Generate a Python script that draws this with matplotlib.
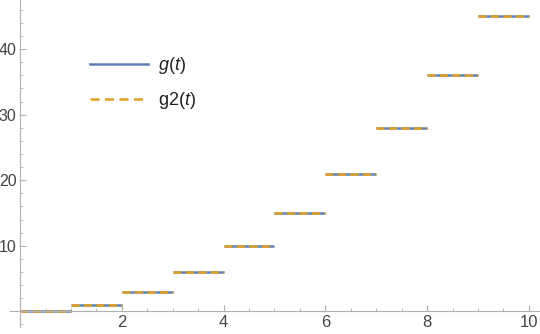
import matplotlib
matplotlib.use("Agg")
import matplotlib.pyplot as plt
from matplotlib.ticker import MultipleLocator, FixedLocator
from matplotlib.lines import Line2D

plt.rcParams['font.family'] = ['Liberation Sans', 'DejaVu Sans']
plt.rcParams['mathtext.fontset'] = 'custom'
plt.rcParams['mathtext.it'] = 'Liberation Sans:italic'
plt.rcParams['mathtext.rm'] = 'Liberation Sans'

step_start = [0, 1, 2, 3, 4, 5, 6, 7, 8, 9]
step_end = [1, 2, 3, 4, 5, 6, 7, 8, 9, 10]
g_values = [0, 1, 3, 6, 10, 15, 21, 28, 36, 45]
g2_values = [0, 1, 3, 6, 10, 15, 21, 28, 36, 45]
x_ticks = [2, 4, 6, 8, 10]
y_ticks = [10, 20, 30, 40]
legend_labels = [r'$g(t)$', r'g2($t$)']

blue = '#5E81B5'
orange = '#E1A024'
axis_gray = '#b0b0b0'
label_gray = '#444444'

fig = plt.figure(figsize=(5.4, 3.34), dpi=100)
ax = fig.add_axes([10/540, 7/334, 530/540, 327/334])

for s, e, v in zip(step_start, step_end, g_values):
    ax.plot([s, e], [v, v], color=blue, lw=1.8, solid_capstyle='butt')
for s, e, v in zip(step_start, step_end, g2_values):
    ax.plot([s, e], [v, v], color=orange, lw=1.8, linestyle=(0, (3.2, 1.8)), dash_capstyle='butt')

ax.set_xlim(-0.2, 10.22)
ax.set_ylim(-2.4, 47.5)

for sp in ['top', 'right']:
    ax.spines[sp].set_visible(False)
ax.spines['left'].set_position(('data', 0))
ax.spines['bottom'].set_position(('data', 0))
for sp in ['left', 'bottom']:
    ax.spines[sp].set_color(axis_gray)
    ax.spines[sp].set_linewidth(0.8)

ax.xaxis.set_major_locator(FixedLocator(x_ticks))
ax.yaxis.set_major_locator(FixedLocator(y_ticks))
ax.xaxis.set_minor_locator(MultipleLocator(0.5))
ax.yaxis.set_minor_locator(MultipleLocator(2))
ax.tick_params(which='major', direction='in', length=4, width=0.8, color=axis_gray,
               labelcolor=label_gray, labelsize=12, pad=3)
ax.tick_params(which='minor', direction='in', length=2.2, width=0.6, color=axis_gray)
ax.tick_params(axis='y', which='major', labelsize=11.5, pad=2.5)

handles = [Line2D([], [], color=blue, lw=1.8),
           Line2D([], [], color=orange, lw=1.8, linestyle=(0, (3.6, 2.2)))]
leg = ax.legend(handles, legend_labels, loc='upper left',
                bbox_to_anchor=(0.12, 0.88), frameon=False, fontsize=13,
                handlelength=3.2, handletextpad=0.6, labelspacing=0.75)
for t in leg.get_texts():
    t.set_color('#222222')

fig.savefig('out.png', dpi=100)
